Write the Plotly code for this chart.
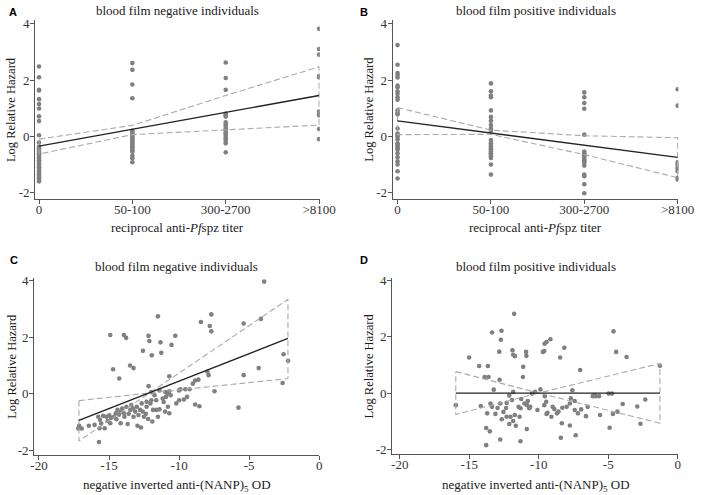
import plotly.graph_objects as go

W, H = 708, 495

# ---------------- data ----------------
TITER_CATS = ["0", "50-100", "300-2700", ">8100"]

# Panel A: blood film negative, titer categories
A_CAT0 = [2.48, 2.1, 1.65, 1.63, 1.32, 1.15, 0.99, 0.71, 0.54, 0.04, -0.22, -0.36, -0.42, -0.48,
          -0.55, -0.6, -0.65, -0.7, -0.75, -0.8, -0.85, -0.9, -0.95, -1.0, -1.05, -1.1, -1.15,
          -1.2, -1.25, -1.3, -1.35, -1.4, -1.45, -1.5, -1.55, -1.6]
A_CAT1 = [2.6, 2.36, 1.84, 1.35, 0.2, 0.15, 0.1, 0.05, 0.0, -0.05, -0.1, -0.15, -0.2, -0.25,
          -0.3, -0.35, -0.4, -0.45, -0.5, -0.55, -0.69, -0.78, -0.92]
A_CAT2 = [2.62, 2.07, 1.65, 0.81, 0.75, 0.7, 0.5, 0.42, 0.35, 0.28, 0.22, 0.15, 0.1, 0.05,
          -0.02, -0.08, -0.15, -0.25, -0.57]
A_CAT3 = [3.82, 3.1, 2.9, 2.14, 2.1, 0.88, 0.8, 0.75, 0.26, -0.1]
A_FIT = [-0.35, 0.24, 0.85, 1.45]
A_UPPER = [-0.1, 0.39, 1.45, 2.47]
A_LOWER = [-0.63, 0.06, 0.23, 0.4]

# Panel B: blood film positive, titer categories
B_CAT0 = [3.24, 2.54, 2.25, 2.18, 2.09, 1.8, 1.74, 1.6, 1.51, 1.39, 1.3, 0.92, 0.83, 0.78, 0.28,
          0.1, 0.05, -0.01, -0.1, -0.25, -0.3, -0.36, -0.42, -0.48, -0.6, -0.74, -0.89, -1.0,
          -1.24, -1.5]
B_CAT1 = [1.88, 1.6, 1.45, 1.39, 0.92, 0.69, 0.55, 0.4, 0.28, 0.2, -0.13, -0.25, -0.3, -0.36,
          -0.42, -0.48, -0.54, -0.6, -0.65, -0.71, -0.77, -1.0, -1.36]
B_CAT2 = [1.56, 1.39, 1.18, 0.98, 0.06, -0.54, -0.6, -0.65, -0.71, -0.77, -0.83, -0.89, -0.95,
          -1.04, -1.36, -1.42, -1.7, -2.02]
B_CAT3 = [1.67, 1.09, -0.92, -1.0, -1.09, -1.16, -1.24, -1.47, -1.53]
B_FIT = [0.55, 0.12, -0.31, -0.75]
B_UPPER = [1.02, 0.22, 0.02, -0.05]
B_LOWER = [0.06, 0.07, -0.65, -1.47]

# Panel C: blood film negative, NANP OD
C_X = [-3.93, -4.16, -11.51, -7.70, -8.44, -7.81, -7.70, -5.39, -14.91, -13.94, -13.78, -12.18,
       -12.12, -10.27, -11.33, -10.54, -12.58, -11.27, -11.95, -13.5, -13.25, -14.71, -14.27,
       -2.54, -2.22, -4.32, -5.39, -7.98, -7.89, -10.7, -12.18, -2.61, -7.47, -5.76,
       -8.62, -8.85, -9.02, -9.25, -9.55, -9.9, -10.01, -9.43, -9.66, -10.0, -10.2, -8.85, -8.55,
       -10.7, -10.8, -10.98, -10.6, -10.94, -11.17, -11.1, -10.8, -10.7, -11.0, -11.4, -11.63,
       -11.75, -11.98, -11.4,
       -17.13, -17.2, -16.95, -16.44, -15.77, -15.65, -15.56, -15.68, -15.31, -15.72, -15.42,
       -15.19, -14.98, -14.87, -14.91, -14.64, -14.52, -14.4, -14.29, -14.17, -14.06, -13.94,
       -13.76, -13.67, -13.6, -13.48, -13.41, -13.29, -13.25, -13.13, -13.02, -12.9, -12.97,
       -12.79, -12.72, -12.67, -12.6, -12.51, -12.37, -12.32, -12.21, -12.05, -11.91, -11.86,
       -11.63, -11.51, -12.32, -11.98, -14.17, -13.9, -14.47, -15.1, -16.03]
C_Y = [3.96, 2.64, 2.73, 2.80, 2.53, 2.39, 2.2, 2.48, 2.07, 2.07, 1.97, 2.04,
       1.86, 2.04, 1.81, 1.72, 1.51, 1.44, 1.35, 0.99, 0.9, 0.86, 0.53,
       1.39, 1.16, 0.9, 0.65, 0.77, 0.65, 0.61, 0.26, 0.37, 0.08, -0.5,
       0.49, 0.46, 0.35, 0.15, 0.15, 0.15, 0.11, -0.12, -0.21, -0.24, -0.35, -0.39, -0.45,
       0.08, 0.0, 0.05, -0.06, -0.12, -0.18, -0.3, -0.47, -0.7, -0.64, -0.56, -0.24,
       -0.06, 0.05, 0.11,
       -1.14, -1.24, -1.24, -1.14, -0.82, -0.93, -1.06, -1.23, -1.23, -1.72, -0.79,
       -0.82, -0.77, -0.87, -1.05, -0.82, -0.7, -0.58, -0.75, -0.64, -0.53, -0.7,
       -0.47, -1.08, -0.72, -0.58, -0.41, -0.53, -0.82, -0.64, -0.47, -0.76, -1.14,
       -0.58, -1.2, -0.35, -0.64, -0.82, -0.72, -0.47, -0.9, -0.35, -0.99, -0.58,
       -0.58, -0.82, -0.29, -0.24, -1.05, -0.82, -0.91, -0.97, -1.11]
C_LINE_X = [-17.15, -2.23]
C_FIT = [-0.95, 1.95]
C_CI_X = [-17.15, -12.1, -2.23]
C_UPPER = [-0.25, 0.02, 3.33]
C_LOWER = [-1.68, 0.02, 0.53]

# Panel D: blood film positive, NANP OD
D_X = [-15.97, -15.01, -14.29, -13.66, -13.89, -13.61, -13.36, -12.68, -12.73, -13.24, -14.17,
       -13.71, -13.36, -13.47, -13.12, -13.52, -13.78, -13.78, -12.96, -12.77, -12.54, -12.35,
       -12.31, -12.66, -12.31, -12.12, -12.82, -12.84, -11.89, -11.84, -11.72, -11.77, -11.84,
       -11.93, -12.12, -11.84, -11.65, -11.72, -12.03, -12.77, -11.38, -11.45, -11.14, -11.12,
       -11.26, -11.31, -11.31, -11.03, -10.84, -10.79, -10.68, -10.61, -10.86, -10.91, -10.89,
       -10.49, -10.26, -10.09, -9.88, -9.7, -9.58, -9.44, -9.6, -9.16, -9.46, -9.56, -9.6,
       -9.37, -9.44, -9.09, -9.0, -8.88, -8.69, -8.58, -8.46, -8.16, -8.34, -8.41, -8.3, -7.99,
       -7.76, -7.69, -7.76, -7.58, -7.41, -7.34, -7.41, -7.18, -7.02, -6.95, -6.6, -6.48, -6.11,
       -6.01, -5.9, -5.66, -5.59, -4.97, -4.9, -4.73, -4.62, -4.66, -4.43, -4.34, -3.96, -3.68,
       -2.91, -2.68, -2.33, -1.28]
D_Y = [-0.43, 1.26, 0.96, 0.96, 0.57, 0.57, 2.15, 2.21, 1.89, 0.12, -0.46,
       -0.72, -0.49, -0.37, -0.74, -1.36, -1.24, -1.85, -0.53, -0.37, -0.67, -0.53,
       -0.35, -0.93, -0.84, -0.09, 0.47, 1.47, 1.52, 1.36, 1.31, 2.81, 0.04,
       -0.25, -1.1, -0.99, -1.16, -0.78, -0.84, -1.65, -0.84, -0.49, 0.57, 0.93,
       -0.21, -0.54, -1.71, -0.37, -0.43, -0.28, -0.54, -0.49, -1.28, 1.46, 1.32,
       -0.02, 0.04, -0.6, 0.13, 1.46, 1.75, 1.81, 1.49, 1.91, -0.31, -0.11, -0.43,
       -0.7, -0.74, -0.84, -0.49, -0.57, -0.72, -0.66, 1.26, 1.61, -1.07, -1.59, -0.52, -0.49,
       -0.37, -0.19, -1.15, 0.1, -0.28, -1.5, -0.6, -0.72, 0.82, -0.58, -0.82, -0.49, -0.11,
       -0.08, -0.11, -0.11, -0.78, -0.02, -1.23, -0.02, 2.19, -0.74, 1.46, -0.66, -0.39, 1.28,
       -0.48, -1.09, -0.23, 0.97]
D_LINE_X = [-15.97, -1.28]
D_FIT = [0.0, 0.0]
D_CI_X = [-15.97, -10.0, -1.28]
D_UPPER = [0.76, 0.0, 1.05]
D_LOWER = [-0.76, 0.0, -1.07]

Y_TICKS = [-2, 0, 2, 4]
OD_TICKS = [-20, -15, -10, -5, 0]

TITLE_NEG = "blood film negative individuals"
TITLE_POS = "blood film positive individuals"
XT_TITER = "reciprocal anti-<i>Pf</i>spz titer"
XT_OD = "negative inverted anti-(NANP)<sub>5</sub> OD"
YT = "Log Relative Hazard"

# ---------------- style ----------------
SERIF = "Liberation Serif, Times New Roman, serif"
FS = 13
MARK = "#808080"
FITC = "#222222"
CIC = "#aaaaaa"
AXC = "#555555"


def px_x(p):
    return p / W


def px_y(p):
    return 1 - p / H


fig = go.Figure()

panels = {
    "A": dict(xd=(32, 325), yd=(15, 197), xr=[-0.042, 3.008], yr=[-2.22, 4.14]),
    "B": dict(xd=(400, 694), yd=(15, 197), xr=[-0.052, 3.008], yr=[-2.22, 4.14]),
    "C": dict(xd=(31, 324.5), yd=(277, 457), xr=[-20.347, 0.01], yr=[-2.162, 4.105]),
    "D": dict(xd=(399.5, 694), yd=(277, 456), xr=[-20.545, 0.05], yr=[-2.15, 4.1]),
}
order = ["A", "B", "C", "D"]


def cat_points(cats):
    xs, ys = [], []
    for i, vals in enumerate(cats):
        xs += [i] * len(vals)
        ys += list(vals)
    return xs, ys


def polygon(xs, up, lo):
    return list(xs) + list(xs)[::-1] + [xs[0]], list(up) + list(lo)[::-1] + [up[0]]


datasets = {
    "A": (cat_points([A_CAT0, A_CAT1, A_CAT2, A_CAT3]), ([0, 1, 2, 3], A_FIT), ([0, 1, 2, 3], A_UPPER, A_LOWER)),
    "B": (cat_points([B_CAT0, B_CAT1, B_CAT2, B_CAT3]), ([0, 1, 2, 3], B_FIT), ([0, 1, 2, 3], B_UPPER, B_LOWER)),
    "C": ((C_X, C_Y), (C_LINE_X, C_FIT), (C_CI_X, C_UPPER, C_LOWER)),
    "D": ((D_X, D_Y), (D_LINE_X, D_FIT), (D_CI_X, D_UPPER, D_LOWER)),
}

layout = dict(
    width=W, height=H, margin=dict(l=0, r=0, t=0, b=0, pad=0),
    paper_bgcolor="white", plot_bgcolor="white", showlegend=False,
    font=dict(family=SERIF, size=FS, color="#222222"),
)

annotations = []
for k, key in enumerate(order):
    p = panels[key]
    n = "" if k == 0 else str(k + 1)
    xa, ya = "x" + n, "y" + n
    (px_, py_), (lx, ly), (cx, cu, cl) = datasets[key]
    polx, poly = polygon(cx, cu, cl)
    fig.add_trace(go.Scatter(x=px_, y=py_, mode="markers", xaxis=xa, yaxis=ya,
                             marker=dict(color=MARK, size=4.6, line=dict(width=0)),
                             hoverinfo="skip"))
    fig.add_trace(go.Scatter(x=polx, y=poly, mode="lines", xaxis=xa, yaxis=ya,
                             line=dict(color=CIC, width=1.1, dash="6px,3px"), hoverinfo="skip"))
    fig.add_trace(go.Scatter(x=lx, y=ly, mode="lines", xaxis=xa, yaxis=ya,
                             line=dict(color=FITC, width=1.3), hoverinfo="skip"))

    common = dict(showgrid=False, zeroline=False, showline=True, linecolor=AXC, linewidth=1,
                  ticks="outside", ticklen=4, tickwidth=1, tickcolor=AXC,
                  tickfont=dict(family=SERIF, size=FS, color="#333333"))
    xax = dict(common, domain=[px_x(p["xd"][0]), px_x(p["xd"][1])], range=p["xr"],
               anchor=ya, ticklabelstandoff=-5)
    if key in ("A", "B"):
        xax.update(tickmode="array", tickvals=[0, 1, 2, 3], ticktext=TITER_CATS)
    else:
        xax.update(tickmode="array", tickvals=OD_TICKS, ticktext=[str(v) for v in OD_TICKS])
    yax = dict(common, domain=[px_y(p["yd"][1]), px_y(p["yd"][0])], range=p["yr"],
               anchor=xa, tickmode="array", tickvals=Y_TICKS,
               ticktext=[str(v) for v in Y_TICKS], ticklabelstandoff=-2)
    layout["xaxis" + n] = xax
    layout["yaxis" + n] = yax


def ann(text, x, y, size=FS, family=SERIF, angle=0, bold=False, xanchor="center", color="#1a1a1a"):
    annotations.append(dict(text=("<b>%s</b>" % text) if bold else text,
                            x=px_x(x), y=px_y(y), xref="paper", yref="paper",
                            showarrow=False, xanchor=xanchor, yanchor="middle",
                            textangle=angle, font=dict(size=size, family=family, color=color)))


ann(TITLE_NEG, 179, 5.5)
ann(TITLE_POS, 547, 5.5)
ann(TITLE_NEG, 178, 266)
ann(TITLE_POS, 547, 266)
ann(XT_TITER, 179, 226)
ann(XT_TITER, 547, 226)
ann(XT_OD, 178, 488)
ann(XT_OD, 547, 488)
ann(YT, 8, 106, size=12.5, angle=-90)
ann(YT, 376, 106, size=12.5, angle=-90)
ann(YT, 8, 367, size=12.5, angle=-90)
ann(YT, 376, 367, size=12.5, angle=-90)
SANS = "Liberation Sans, Arial, sans-serif"
ann("A", 3, 7.5, size=11, family=SANS, bold=True, xanchor="left", color="black")
ann("B", 364, 7.5, size=11, family=SANS, bold=True, xanchor="left", color="black")
ann("C", 4, 259, size=11, family=SANS, bold=True, xanchor="left", color="black")
ann("D", 364, 259, size=11, family=SANS, bold=True, xanchor="left", color="black")

layout["annotations"] = annotations
fig.update_layout(**layout)
fig.write_html("out.html", config={"displayModeBar": False},
               post_script="document.body.style.margin='0';document.body.style.padding='0';")
